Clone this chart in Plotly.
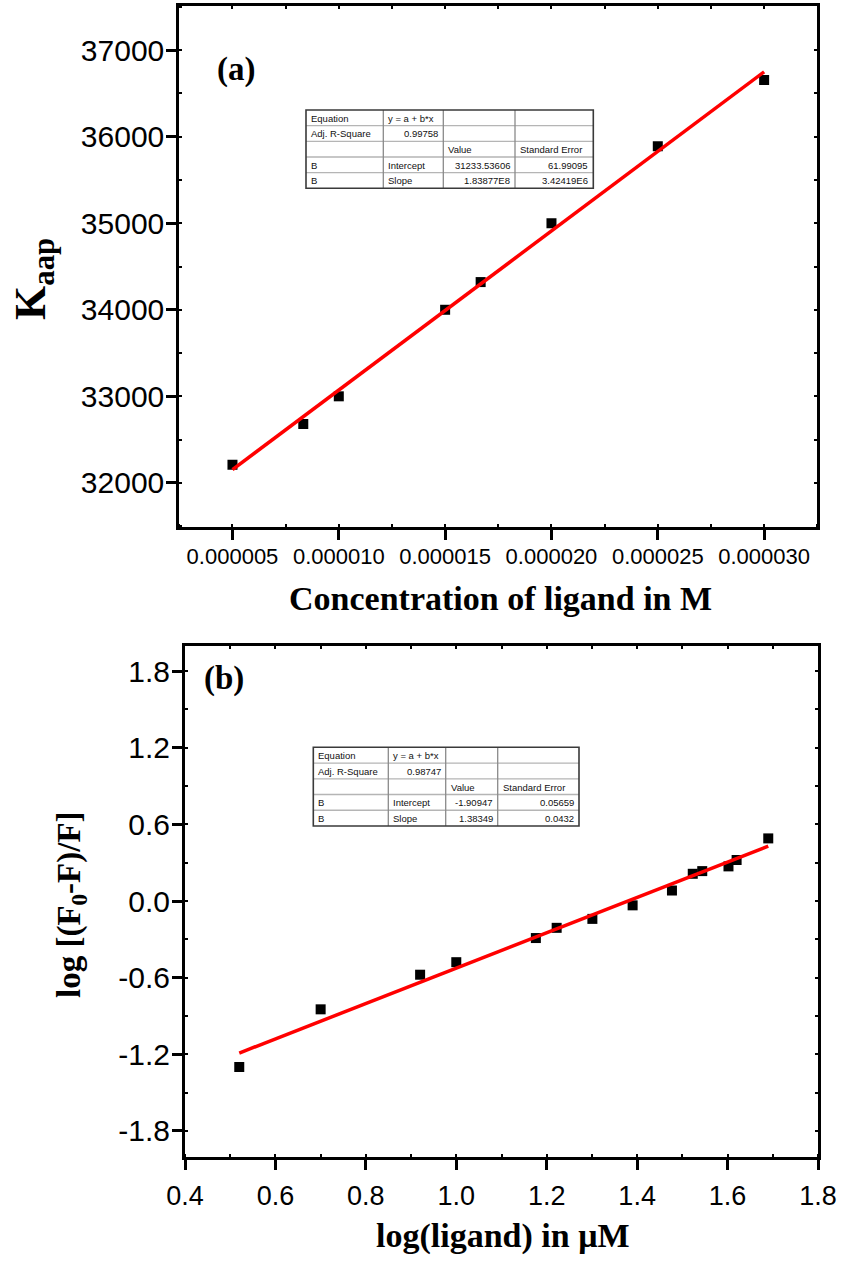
import numpy as np
import plotly.graph_objects as go

W, H = 844, 1262

# ---- Panel (a): apparent binding constant vs ligand concentration ----
conc_M = [5.0e-6, 8.33e-6, 1.0e-5, 1.5e-5, 1.667e-5, 2.0e-5, 2.5e-5, 3.0e-5]
k_aap = [32210, 32680, 33000, 34000, 34320, 35000, 35890, 36655]
fit_a = {"adj_r2": 0.99758, "intercept": 31233.53606, "intercept_se": 61.99095,
         "slope": 1.83877e8, "slope_se": 3.42419e6}
xticks_a = [5e-6, 1e-5, 1.5e-5, 2e-5, 2.5e-5, 3e-5]
xticklabels_a = ["0.000005", "0.000010", "0.000015", "0.000020", "0.000025", "0.000030"]
yticks_a = [32000, 33000, 34000, 35000, 36000, 37000]
yticklabels_a = ["32000", "33000", "34000", "35000", "36000", "37000"]

# ---- Panel (b): double-log quenching plot ----
log_ligand = [0.52, 0.70, 0.92, 1.00, 1.176, 1.222, 1.301, 1.39, 1.477, 1.523, 1.544, 1.602, 1.62, 1.69]
log_quench = [-1.30, -0.848, -0.577, -0.479, -0.29, -0.21, -0.14, -0.034, 0.082, 0.213, 0.234, 0.271, 0.321, 0.49]
fit_b = {"adj_r2": 0.98747, "intercept": -1.90947, "intercept_se": 0.05659,
         "slope": 1.38349, "slope_se": 0.0432}
xticks_b = [0.4, 0.6, 0.8, 1.0, 1.2, 1.4, 1.6, 1.8]
xticklabels_b = ["0.4", "0.6", "0.8", "1.0", "1.2", "1.4", "1.6", "1.8"]
yticks_b = [-1.8, -1.2, -0.6, 0.0, 0.6, 1.2, 1.8]
yticklabels_b = ["-1.8", "-1.2", "-0.6", "0.0", "0.6", "1.2", "1.8"]


def px_x(p):
    return p / W


def px_y(p):
    return 1 - p / H


def fmt_num(v):
    if abs(v) >= 1e6:
        m, e = f"{v:.5E}".split("E")
        return f"{m}E{int(e)}"
    return f"{v:.5f}".rstrip("0").rstrip(".")


SANS = "Liberation Sans, Arial, sans-serif"
SERIF = "Liberation Serif, Times New Roman, serif"

fig = go.Figure()

# scatter + linear fit, panel (a)
fig.add_trace(go.Scatter(x=conc_M, y=k_aap, mode="markers", xaxis="x", yaxis="y",
                         marker=dict(symbol="square", size=10, color="black"),
                         showlegend=False))
xa = np.array([min(conc_M), max(conc_M)])
fig.add_trace(go.Scatter(x=xa, y=fit_a["intercept"] + fit_a["slope"] * xa, mode="lines",
                         xaxis="x", yaxis="y", line=dict(color="#ff0000", width=3.5),
                         showlegend=False))

# scatter + linear fit, panel (b)
fig.add_trace(go.Scatter(x=log_ligand, y=log_quench, mode="markers", xaxis="x2", yaxis="y2",
                         marker=dict(symbol="square", size=10, color="black"),
                         showlegend=False))
xb = np.array([min(log_ligand), max(log_ligand)])
fig.add_trace(go.Scatter(x=xb, y=fit_b["intercept"] + fit_b["slope"] * xb, mode="lines",
                         xaxis="x2", yaxis="y2", line=dict(color="#ff0000", width=3.5),
                         showlegend=False))

# empty traces so that the frame tick axes are drawn
fig.add_trace(go.Scatter(x=[None], y=[None], xaxis="x3", yaxis="y3", showlegend=False))
fig.add_trace(go.Scatter(x=[None], y=[None], xaxis="x4", yaxis="y4", showlegend=False))


def main_axis(domain, rng, tickvals, ticktext, minor_dtick, size, standoff):
    return dict(domain=domain, range=rng, tickmode="array", tickvals=tickvals, ticktext=ticktext,
                tickangle=0, automargin=False,
                ticks="outside", ticklen=10, tickwidth=2.5, tickcolor="black",
                showline=True, linewidth=3, linecolor="black", mirror=True,
                showgrid=False, zeroline=False,
                tickfont=dict(family=SANS, size=size, color="black"),
                ticklabelstandoff=standoff,
                minor=dict(tickmode="linear", tick0=0, dtick=minor_dtick, ticks="inside",
                           ticklen=3, tickwidth=2, tickcolor="black"))


def frame_axis(overlay, side, rng, minor_dtick, anchor):
    return dict(overlaying=overlay, side=side, anchor=anchor, range=rng, automargin=False,
                tickmode="linear", tick0=0, dtick=minor_dtick, ticks="inside", ticklen=3,
                tickwidth=2, tickcolor="black", showticklabels=False, showline=False,
                showgrid=False, zeroline=False)


xdom_a = [px_x(179.3), px_x(817.3)]
ydom_a = [px_y(527), px_y(6)]
xdom_b = [px_x(185), px_x(818)]
ydom_b = [px_y(1156.5), px_y(645.5)]
xr_a, yr_a = [2.5e-6, 3.25e-5], [31490, 37510]
xr_b, yr_b = [0.4, 1.8], [-2.0, 2.0]

fig.update_layout(
    width=W, height=H, margin=dict(l=0, r=0, t=0, b=0, pad=0, autoexpand=False),
    paper_bgcolor="white", plot_bgcolor="white",
    xaxis=dict(main_axis(xdom_a, xr_a, xticks_a, xticklabels_a, 2.5e-6, 22, -2), anchor="y"),
    yaxis=dict(main_axis(ydom_a, yr_a, yticks_a, yticklabels_a, 500, 30, -4), anchor="x"),
    xaxis2=dict(main_axis(xdom_b, xr_b, xticks_b, xticklabels_b, 0.1, 27, 3), anchor="y2"),
    yaxis2=dict(main_axis(ydom_b, yr_b, yticks_b, yticklabels_b, 0.3, 30, -4), anchor="x2"),
    xaxis3=frame_axis("x", "top", xr_a, 2.5e-6, "y"),
    yaxis3=frame_axis("y", "right", yr_a, 500, "x"),
    xaxis4=frame_axis("x2", "top", xr_b, 0.1, "y2"),
    yaxis4=frame_axis("y2", "right", yr_b, 0.3, "x2"),
)

annotations = []
shapes = []


def label(text, x, y, size, angle=0):
    annotations.append(dict(text=text, x=px_x(x), y=px_y(y), xref="paper", yref="paper",
                            showarrow=False, xanchor="center", yanchor="middle",
                            textangle=angle,
                            font=dict(family=SERIF, size=size, color="black", weight="bold")))


# axis titles and panel labels
label("K<sub>aap</sub>", 34, 279, 44, angle=-90)
label("Concentration of ligand in M", 500, 598, 34)
label("(a)", 236, 70, 33)
label("log [(F<sub>0</sub>-F)/F]", 71, 905, 33, angle=-90)
label("log(ligand) in \u03bcM", 503, 1236, 34)
label("(b)", 224, 678, 33)


def fit_table(fit, col_px, top, row_h):
    rows = [["Equation", "y = a + b*x", "", ""],
            ["Adj. R-Square", fmt_num(fit["adj_r2"]), "", ""],
            ["", "", "Value", "Standard Error"],
            ["B", "Intercept", fmt_num(fit["intercept"]), fmt_num(fit["intercept_se"])],
            ["B", "Slope", fmt_num(fit["slope"]), fmt_num(fit["slope_se"])]]
    numeric = {(1, 1), (3, 2), (3, 3), (4, 2), (4, 3)}
    bottom = top + row_h * len(rows)
    # inner grid
    for i in range(1, len(rows)):
        yy = top + i * row_h
        shapes.append(dict(type="line", xref="paper", yref="paper",
                           x0=px_x(col_px[0]), x1=px_x(col_px[-1]), y0=px_y(yy), y1=px_y(yy),
                           line=dict(color="#b5b5b5", width=1.3)))
    for c in col_px[1:-1]:
        shapes.append(dict(type="line", xref="paper", yref="paper",
                           x0=px_x(c), x1=px_x(c), y0=px_y(top), y1=px_y(bottom),
                           line=dict(color="#8a8a8a", width=1.3)))
    shapes.append(dict(type="rect", xref="paper", yref="paper",
                       x0=px_x(col_px[0]), x1=px_x(col_px[-1]), y0=px_y(bottom), y1=px_y(top),
                       line=dict(color="#3a3a3a", width=1.6)))
    for r, row in enumerate(rows):
        yc = top + (r + 0.5) * row_h
        for c, txt in enumerate(row):
            if not txt:
                continue
            right = (r, c) in numeric
            xx = col_px[c + 1] - 3 if right else col_px[c] + 3
            annotations.append(dict(text=txt, x=px_x(xx), y=px_y(yc + 0.5), xref="paper",
                                    yref="paper", showarrow=False,
                                    xanchor="right" if right else "left", yanchor="middle",
                                    font=dict(family=SANS, size=9.5, color="#111111")))


fit_table(fit_a, [306, 383.3, 443.3, 515, 593.3], 110, 15.66)
fit_table(fit_b, [313.3, 388.3, 445.7, 497.7, 579], 747.3, 15.74)

fig.update_layout(annotations=annotations, shapes=shapes)
fig.write_html("out.html")
